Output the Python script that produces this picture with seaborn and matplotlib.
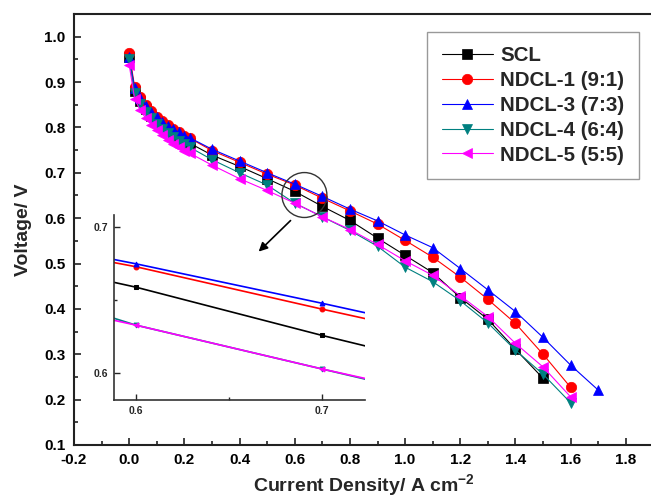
import matplotlib
matplotlib.use("Agg")
import matplotlib.pyplot as plt
from matplotlib.patches import Ellipse
from matplotlib.ticker import MultipleLocator
import seaborn as sns

# current density (A cm-2) shared by all samples
current = [0.0, 0.02, 0.04, 0.06, 0.08, 0.10, 0.12, 0.14, 0.16, 0.18, 0.20, 0.22,
           0.3, 0.4, 0.5, 0.6, 0.7, 0.8, 0.9, 1.0, 1.1, 1.2, 1.3, 1.4, 1.5, 1.6, 1.7]

# cell voltage (V) for each sample
scl = [0.955, 0.880, 0.858, 0.840, 0.826, 0.814, 0.803, 0.794, 0.786, 0.778, 0.771, 0.765,
       0.739, 0.714, 0.687, 0.659, 0.626, 0.595, 0.556, 0.518, 0.480, 0.425, 0.377, 0.311, 0.247]
ndcl1 = [0.965, 0.888, 0.866, 0.849, 0.836, 0.824, 0.814, 0.805, 0.797, 0.789, 0.782, 0.776,
         0.749, 0.723, 0.697, 0.673, 0.644, 0.616, 0.587, 0.551, 0.514, 0.470, 0.421, 0.368, 0.300, 0.227]
ndcl3 = [0.955, 0.886, 0.864, 0.847, 0.834, 0.823, 0.813, 0.804, 0.796, 0.789, 0.782, 0.777,
         0.752, 0.726, 0.700, 0.675, 0.648, 0.620, 0.594, 0.563, 0.535, 0.489, 0.442, 0.394, 0.337, 0.276, 0.221]
ndcl4 = [0.950, 0.875, 0.852, 0.834, 0.820, 0.808, 0.797, 0.787, 0.778, 0.770, 0.763, 0.756,
         0.729, 0.700, 0.673, 0.633, 0.603, 0.573, 0.538, 0.492, 0.460, 0.418, 0.369, 0.309, 0.256, 0.193]
ndcl5 = [0.938, 0.862, 0.838, 0.820, 0.806, 0.794, 0.783, 0.773, 0.764, 0.756, 0.749, 0.743,
         0.717, 0.687, 0.661, 0.633, 0.603, 0.575, 0.542, 0.506, 0.474, 0.429, 0.383, 0.324, 0.272, 0.206]

labels = ["SCL", "NDCL-1 (9:1)", "NDCL-3 (7:3)", "NDCL-4 (6:4)", "NDCL-5 (5:5)"]
colors = ["black", "#FF0000", "#0000FF", "#008080", "#FF00FF"]
markers = ["s", "o", "^", "v", "<"]
series = [scl, ndcl1, ndcl3, ndcl4, ndcl5]

sns.set_style("ticks")
plt.rcParams["font.family"] = ["Liberation Sans", "DejaVu Sans"]
plt.rcParams["font.weight"] = "bold"
plt.rcParams["mathtext.fontset"] = "custom"
plt.rcParams["mathtext.rm"] = "Liberation Sans:bold"
plt.rcParams["mathtext.bf"] = "Liberation Sans:bold"

fig = plt.figure(figsize=(6.51, 5.0), dpi=100)
ax = fig.add_axes([0.1137, 0.11, 0.890, 0.862])

for vals, lab, col, mk in zip(series, labels, colors, markers):
    sns.lineplot(x=current[:len(vals)], y=vals, ax=ax, color=col, marker=mk,
                 markersize=7.5, markeredgecolor=col, markeredgewidth=0.5,
                 linewidth=0.8, label=lab, sort=False, estimator=None)

ax.set_xlim(-0.2, 1.9)
ax.set_ylim(0.1, 1.05)
ax.xaxis.set_minor_locator(MultipleLocator(0.1))
ax.yaxis.set_minor_locator(MultipleLocator(0.05))
ax.set_xticks([-0.2, 0.0, 0.2, 0.4, 0.6, 0.8, 1.0, 1.2, 1.4, 1.6, 1.8])
ax.set_xticklabels(["-0.2", "0.0", "0.2", "0.4", "0.6", "0.8", "1.0", "1.2", "1.4", "1.6", "1.8"])
ax.set_yticks([0.1, 0.2, 0.3, 0.4, 0.5, 0.6, 0.7, 0.8, 0.9, 1.0])
ax.tick_params(which="both", direction="in", width=1.2, colors="#222222", labelcolor="black")
ax.tick_params(which="major", length=5, labelsize=11, pad=6)
ax.tick_params(which="minor", length=3)
for lbl in ax.get_xticklabels() + ax.get_yticklabels():
    lbl.set_fontweight("bold")
for sp in ax.spines.values():
    sp.set_linewidth(1.5)
    sp.set_color("#222222")

ax.set_xlabel("Current Density/ A cm$^{-2}$", fontsize=14, fontweight="bold", labelpad=4)
ax.set_ylabel("Voltage/ V", fontsize=14, fontweight="bold", labelpad=9)

leg = ax.legend(loc="upper right", bbox_to_anchor=(0.9748, 0.958), borderaxespad=0,
                prop={"size": 14.8, "weight": "bold"}, frameon=True, fancybox=False,
                framealpha=1, edgecolor="#999999", handlelength=2.5,
                handletextpad=0.35, labelspacing=0.28, borderpad=0.7, numpoints=1)
leg.get_frame().set_linewidth(1.0)

# zoom circle and arrow
ax.add_patch(Ellipse((0.635, 0.651), width=0.163, height=0.099, fill=False,
                     edgecolor="#333333", linewidth=1.0, zorder=5))
ax.annotate("", xy=(0.462, 0.522), xytext=(0.592, 0.599),
            arrowprops=dict(arrowstyle="-|>", color="black", lw=1.2, mutation_scale=13))

# inset
ins = fig.add_axes([0.1751, 0.2, 0.3856, 0.37])
ins.set_facecolor("none")
for vals, col, mk in zip(series, colors, markers):
    sns.lineplot(x=current[:len(vals)], y=vals, ax=ins, color=col, marker=mk,
                 markersize=3.5, markeredgecolor=col, linewidth=1.2,
                 sort=False, estimator=None, legend=False)
ins.set_xlim(0.5883, 0.7233)
ins.set_ylim(0.5817, 0.7084)
ins.set_xticks([0.6, 0.7])
ins.set_xticks([0.65], minor=True)
ins.set_yticks([0.6, 0.7])
ins.set_yticks([0.65], minor=True)
ins.set_xticklabels(["0.6", "0.7"])
ins.set_yticklabels(["0.6", "0.7"])
ins.tick_params(which="both", direction="in", width=1.0, labelsize=7.5, pad=4)
ins.tick_params(which="major", length=4)
ins.tick_params(which="minor", length=2.5)
for lbl in ins.get_xticklabels() + ins.get_yticklabels():
    lbl.set_fontweight("bold")
ins.spines["top"].set_visible(False)
ins.spines["right"].set_visible(False)
for s in ["left", "bottom"]:
    ins.spines[s].set_linewidth(1.2)
    ins.spines[s].set_color("#333333")
ins.set_xlabel("")
ins.set_ylabel("")

fig.savefig("out.png", dpi=100)
